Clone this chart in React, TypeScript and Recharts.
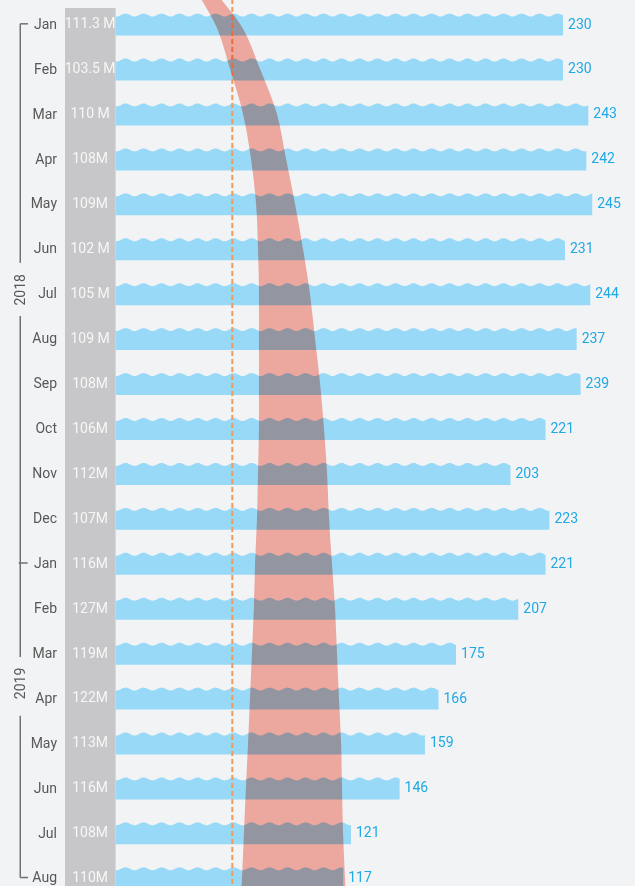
import React from "react";
import {
  ComposedChart,
  Bar,
  Area,
  XAxis,
  YAxis,
  ReferenceArea,
  ReferenceLine,
  ReferenceDot,
  LabelList,
} from "recharts";

const months = ["Jan", "Feb", "Mar", "Apr", "May", "Jun", "Jul", "Aug", "Sep", "Oct", "Nov", "Dec", "Jan", "Feb", "Mar", "Apr", "May", "Jun", "Jul", "Aug"];
const totals = ["111.3 M", "103.5 M", "110 M", "108M", "109M", "102 M", "105 M", "109 M", "108M", "106M", "112M", "107M", "116M", "127M", "119M", "122M", "113M", "116M", "108M", "110M"];
const values = [230, 230, 243, 242, 245, 231, 244, 237, 239, 221, 203, 223, 221, 207, 175, 166, 159, 146, 121, 117];
const bandLow = [51.1, 58.8, 65.5, 69.6, 72.2, 73.2, 73.7, 73.7, 73.7, 73.7, 73.2, 72.7, 71.7, 71.1, 70.1, 69.1, 68.1, 67.0, 66.0, 65.0];
const bandHigh = [63.9, 74.2, 82.9, 87.6, 92.2, 96.3, 99.9, 102.5, 105.1, 107.1, 108.7, 109.7, 111.2, 112.8, 113.8, 114.8, 115.9, 116.4, 116.9, 117.9];
const bandTop = [44.3, 54.5];
const bandBottom = [64.4, 118.4];
const threshold = 60;
const years = ["2018", "2019"];
const yearAt = [5.92, 14.68];

const TOP_IDX = -0.53;
const BOTTOM_IDX = 19.5;
const rowIdx = months.map((_, i) => i);

const data = [
  { idx: TOP_IDX, band: bandTop },
  ...months.map((m, i) => ({
    idx: i,
    month: m,
    total: totals[i],
    value: values[i],
    band: [bandLow[i], bandHigh[i]],
  })),
  { idx: BOTTOM_IDX, band: bandBottom },
];

const FONT = "Roboto, 'Noto Sans', sans-serif";

const WaveBar = (props: any) => {
  const { x, y, width, height, payload } = props;
  if (payload?.value == null || !(width > 0)) return null;
  const amp = 1.5;
  const period = 18;
  const top = y + 1;
  const bottom = y + height + 1;
  const waveY = (px: number) =>
    top + amp * (1 - Math.cos((2 * Math.PI * (px - x - 10)) / period));
  let d = `M${x},${bottom} L${x},${waveY(x)}`;
  for (let px = x + 1; px < x + width; px += 1) d += ` L${px},${waveY(px)}`;
  d += ` L${x + width},${waveY(x + width)} L${x + width},${bottom} Z`;
  return <path d={d} fill="#97D9F6" />;
};

const MonthTick = ({ x, y, payload }: any) => (
  <text x={x} y={y} dy="0.35em" textAnchor="end" fill="#585858" fontSize={14} fontFamily={FONT}>
    {months[payload.value]}
  </text>
);

const TotalLabel = (props: any) => {
  const { x, y, height, value } = props;
  if (value == null) return null;
  return (
    <text x={x - 25.5} y={y + height / 2} dy="0.35em" textAnchor="middle" fill="#F7F7F7" fontSize={14} fontFamily={FONT}>
      {value}
    </text>
  );
};

const YearLabel = ({ cx, cy, text }: any) => (
  <text
    x={cx}
    y={cy}
    dy="0.35em"
    textAnchor="middle"
    fill="#585858"
    fontSize={14}
    fontFamily={FONT}
    transform={`rotate(-90 ${cx} ${cy})`}
  >
    {text}
  </text>
);

const BX = -49;
const bracket = [
  [{ x: -45, y: 0 }, { x: BX, y: 0 }],
  [{ x: BX, y: 0 }, { x: BX, y: 5.32 }],
  [{ x: BX, y: 6.5 }, { x: BX, y: 14.09 }],
  [{ x: -49.8, y: 12 }, { x: -45.2, y: 12 }],
  [{ x: BX, y: 15.4 }, { x: BX, y: 19 }],
  [{ x: BX, y: 19 }, { x: -45, y: 19 }],
];

export default function App() {
  return (
    <div
      style={{
        position: "absolute",
        left: 0,
        top: 0,
        width: 635,
        height: 886,
        overflow: "hidden",
        background: "#F2F3F5",
      }}
    >
      <style>{`.band path { mix-blend-mode: multiply; }`}</style>
      <ComposedChart
        width={635}
        height={900}
        data={data}
        layout="vertical"
        margin={{ top: 0, right: 0, left: 0, bottom: 0 }}
      >
        <XAxis type="number" domain={[-26, 267]} hide />
        <YAxis
          type="number"
          dataKey="idx"
          domain={[TOP_IDX, BOTTOM_IDX]}
          ticks={rowIdx}
          interval={0}
          width={65}
          tickSize={0}
          tickMargin={8}
          axisLine={false}
          tickLine={false}
          tick={<MonthTick />}
        />
        <ReferenceArea
          x1={-26}
          x2={0}
          y1={-0.35}
          y2={BOTTOM_IDX}
          fill="#C7C7C9"
          fillOpacity={1}
          stroke="none"
          ifOverflow="visible"
          zIndex={50}
        />
        {bracket.map((seg, i) => (
          <ReferenceLine
            key={i}
            segment={seg}
            stroke="#707070"
            strokeWidth={1.5}
            ifOverflow="visible"
          />
        ))}
        {years.map((yr, i) => (
          <ReferenceDot
            key={yr}
            x={BX}
            y={yearAt[i]}
            r={0}
            ifOverflow="visible"
            shape={(p: any) => <YearLabel {...p} text={yr} />}
          />
        ))}
        <Bar dataKey="value" barSize={22} shape={<WaveBar />} isAnimationActive={false} zIndex={300}>
          <LabelList dataKey="total" content={<TotalLabel />} />
          <LabelList
            dataKey="value"
            position="right"
            offset={5}
            fill="#1FA9E6"
            fontSize={14}
            fontFamily={FONT}
          />
        </Bar>
        <ReferenceLine
          x={threshold}
          stroke="#F29A5C"
          strokeWidth={2}
          strokeDasharray="5 3"
          zIndex={350}
        />
        <Area
          dataKey="band"
          type="monotone"
          stroke="none"
          fill="#F9AFA6"
          fillOpacity={1}
          className="band"
          isAnimationActive={false}
          zIndex={400}
        />
      </ComposedChart>
    </div>
  );
}
